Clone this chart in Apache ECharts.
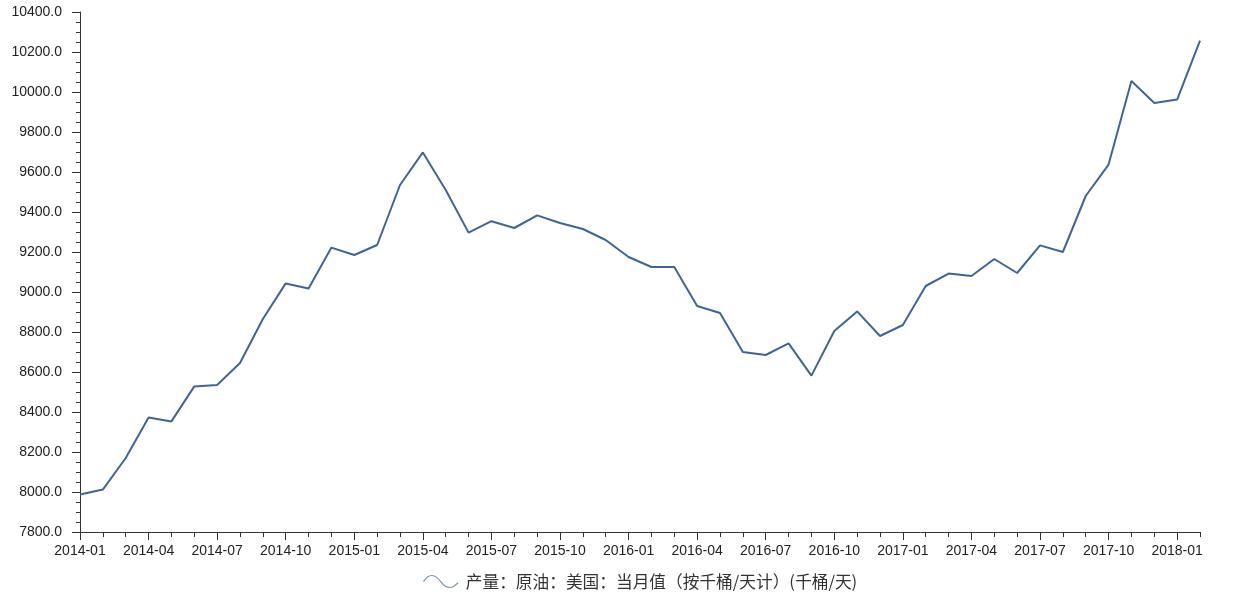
<!DOCTYPE html>
<html>
<head>
<meta charset="utf-8">
<script src="https://cdn.jsdelivr.net/npm/echarts@6/dist/echarts.min.js"></script>
<style>html,body{margin:0;padding:0;background:#fff}#c{width:1235px;height:600px}</style>
</head>
<body>
<div id="c"></div>
<script>
const months = [
 '2014-01','2014-02','2014-03','2014-04','2014-05','2014-06','2014-07','2014-08','2014-09','2014-10','2014-11','2014-12',
 '2015-01','2015-02','2015-03','2015-04','2015-05','2015-06','2015-07','2015-08','2015-09','2015-10','2015-11','2015-12',
 '2016-01','2016-02','2016-03','2016-04','2016-05','2016-06','2016-07','2016-08','2016-09','2016-10','2016-11','2016-12',
 '2017-01','2017-02','2017-03','2017-04','2017-05','2017-06','2017-07','2017-08','2017-09','2017-10','2017-11','2017-12',
 '2018-01','2018-02'
];
const production = [
 7988, 8012, 8170, 8373, 8353, 8528, 8535, 8645, 8865, 9043, 9018, 9222,
 9185, 9235, 9535, 9698, 9510, 9297, 9354, 9320, 9383, 9345, 9315, 9260,
 9175, 9125, 9125, 8930, 8895, 8700, 8685, 8743, 8582, 8805, 8903, 8780,
 8835, 9030, 9092, 9080, 9165, 9095, 9233, 9200, 9480, 9637, 10055, 9945,
 9962, 10257
];
const seriesName = '产量：原油：美国：当月值（按千桶/天计）(千桶/天)';
const yMin = 7800, yMax = 10400, yStep = 200;

const chart = echarts.init(document.getElementById('c'));
const lineColor = '#3e6596';
const axisColor = '#333';
const font = 'Arial, "Liberation Sans", sans-serif';
chart.setOption({
  animation: false,
  grid: {left: 80, right: 35, top: 12, bottom: 68, containLabel: false},
  legend: {
    bottom: 5, left: 416,
    data: [{name: seriesName, icon: 'path://M0,8 C6,-1 12,0 18,8 C24,16 30,16 36,9',
      itemStyle: {color: 'none', borderColor: '#7890b2', borderWidth: 1.2}}],
    itemWidth: 40, itemHeight: 12, itemGap: 10,
    textStyle: {fontSize: 16.7, color: '#333',
      fontFamily: '"Noto Sans CJK SC", sans-serif'}
  },
  xAxis: [{
    type: 'category', data: months, boundaryGap: false,
    axisLine: {lineStyle: {color: axisColor}},
    axisTick: {interval: 2, length: 8, lineStyle: {color: axisColor}},
    axisLabel: {interval: 2, color: '#222', fontSize: 14, margin: 12, fontFamily: font},
    splitLine: {show: false}
  }, {
    type: 'category', data: months, boundaryGap: false, position: 'bottom',
    axisLine: {show: false},
    axisTick: {interval: 0, length: 5, lineStyle: {color: axisColor}},
    axisLabel: {show: false}, splitLine: {show: false}
  }],
  yAxis: {
    type: 'value', min: yMin, max: yMax, interval: yStep,
    axisLine: {show: true, lineStyle: {color: axisColor}},
    axisTick: {show: true, length: 8, lineStyle: {color: axisColor}},
    minorTick: {show: true, splitNumber: 4, length: 4, lineStyle: {color: axisColor}},
    splitLine: {show: false},
    axisLabel: {color: '#222', fontSize: 14, margin: 18, fontFamily: font,
      formatter: v => v.toFixed(1)}
  },
  series: [{
    name: seriesName, type: 'line', data: production, xAxisIndex: 0,
    symbol: 'none', lineStyle: {color: lineColor, width: 2}, itemStyle: {color: lineColor}
  }]
});
</script>
</body>
</html>
